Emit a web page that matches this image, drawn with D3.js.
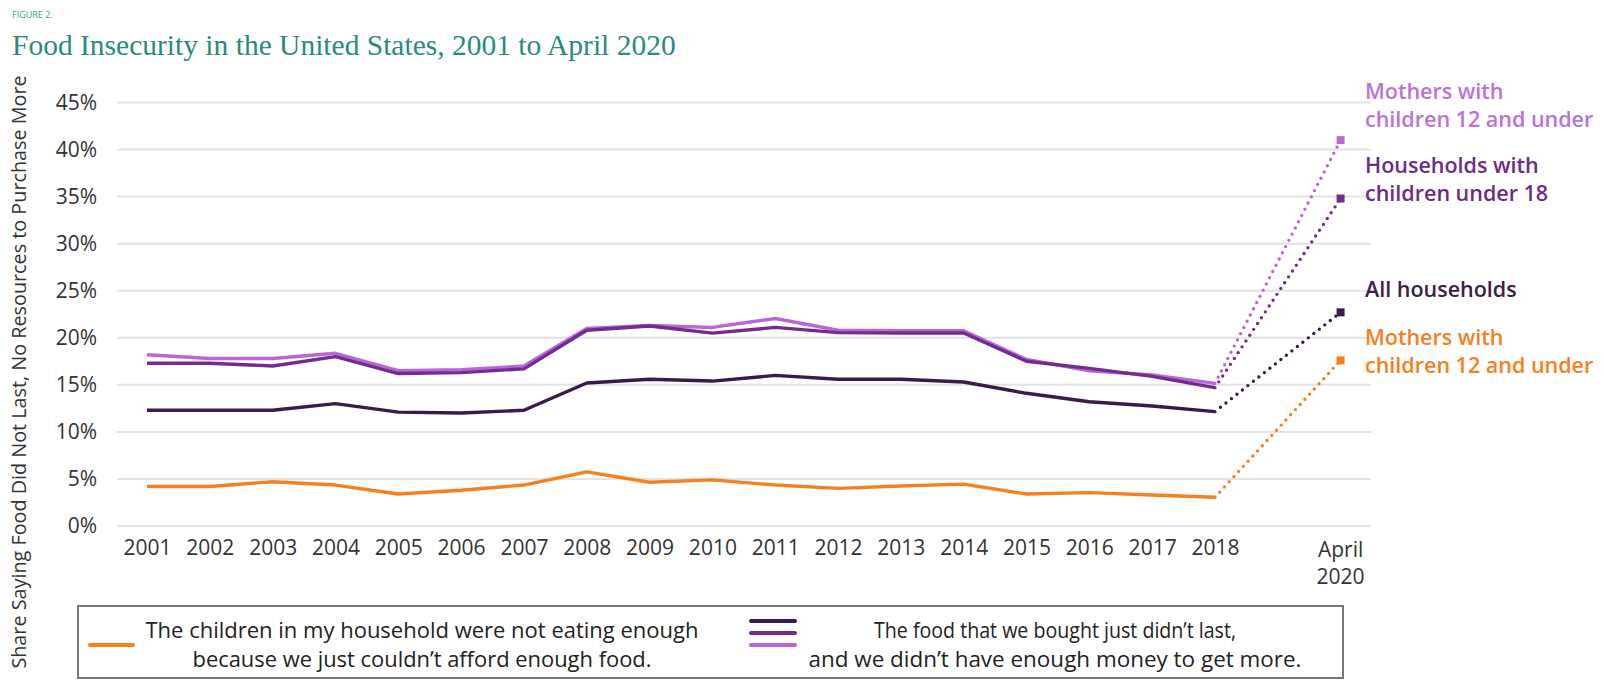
<!DOCTYPE html>
<html><head><meta charset="utf-8">
<script src="https://cdn.jsdelivr.net/npm/d3@7/dist/d3.min.js"></script>
<style>html,body{margin:0;padding:0;background:#fff;}svg{display:block;}</style>
</head><body>
<svg id="chart" width="1604" height="680"></svg>
<script>
const years = [2001,2002,2003,2004,2005,2006,2007,2008,2009,2010,2011,2012,2013,2014,2015,2016,2017,2018];
const childrenNotEating = [4.2,4.2,4.7,4.35,3.4,3.8,4.35,5.75,4.65,4.9,4.35,4.0,4.25,4.45,3.4,3.55,3.3,3.05];
const allHouseholds = [12.3,12.3,12.3,13.0,12.1,12.0,12.3,15.2,15.6,15.4,16.0,15.6,15.6,15.3,14.1,13.2,12.75,12.15];
const householdsWithChildren = [17.3,17.3,17.0,18.0,16.2,16.3,16.7,20.8,21.25,20.5,21.1,20.55,20.5,20.5,17.5,16.75,15.9,14.7];
const mothersWithChildren = [18.2,17.8,17.8,18.35,16.5,16.6,17.0,21.0,21.3,21.1,22.05,20.8,20.75,20.75,17.7,16.5,16.05,15.15];
const april2020 = {childrenNotEating:17.6, allHouseholds:22.7, householdsWithChildren:34.8, mothersWithChildren:41.0};
const aprilYear = 2020;
const yTicks = [0,5,10,15,20,25,30,35,40,45];
const xTickLabels = years.map(String);

const svg = d3.select("#chart");
const x = d3.scaleLinear().domain([2001, 2020]).range([147, 1340.6]);
const y = d3.scaleLinear().domain([0, 45]).range([526, 102.5]);
const sans = "'Open Sans', 'Noto Sans', sans-serif";

// Title
svg.append("text").attr("x",12).attr("y",18).attr("font-family",sans).attr("font-size",9)
  .attr("fill","#3a9d8f").text("FIGURE 2.");
svg.append("text").attr("x",12).attr("y",55).attr("font-family","'Liberation Serif', serif")
  .attr("font-size",29.5).attr("fill","#2b8a7c").text("Food Insecurity in the United States, 2001 to April 2020");

// gridlines
svg.append("g").selectAll("line").data(yTicks).join("line")
  .attr("x1",117).attr("x2",1371).attr("y1",d=>y(d)).attr("y2",d=>y(d))
  .attr("stroke","#e3e3e3").attr("stroke-width",2);

// y axis
const yAxis = d3.axisLeft(y).tickValues(yTicks).tickFormat(d=>d+"%").tickSize(0).tickPadding(0);
const gy = svg.append("g").attr("transform","translate(97,0)").call(yAxis);
gy.select(".domain").remove();
gy.selectAll("text").attr("font-family",sans).attr("font-size",21).attr("fill","#333");

// x axis
const xAxis = d3.axisBottom(x).tickValues(years).tickFormat((d,i)=>xTickLabels[i]).tickSize(0).tickPadding(0);
const gx = svg.append("g").attr("transform","translate(0,540)").call(xAxis);
gx.select(".domain").remove();
gx.selectAll("text").attr("font-family",sans).attr("font-size",21).attr("fill","#333").attr("dy","0.71em");
const aprilLbl = svg.append("text").attr("x",x(aprilYear)).attr("y",557).attr("text-anchor","middle")
  .attr("font-family",sans).attr("font-size",21).attr("fill","#333");
aprilLbl.append("tspan").attr("x",x(aprilYear)).text("April");
aprilLbl.append("tspan").attr("x",x(aprilYear)).attr("dy",27).text("2020");

// y title
svg.append("text").attr("transform","translate(21,372) rotate(-90)").attr("text-anchor","middle")
  .attr("dominant-baseline","middle").attr("font-family",sans).attr("font-size",19.8).attr("fill","#333")
  .text("Share Saying Food Did Not Last, No Resources to Purchase More");

const series = [
  {key:"childrenNotEating", values:childrenNotEating, color:"#f7801e"},
  {key:"allHouseholds", values:allHouseholds, color:"#3a1a48"},
  {key:"mothersWithChildren", values:mothersWithChildren, color:"#b866d9"},
  {key:"householdsWithChildren", values:householdsWithChildren, color:"#722d8c"}
];
const line = d3.line().x(d=>x(d[0])).y(d=>y(d[1]));
series.forEach(s=>{
  const pts = years.map((yr,i)=>[yr,s.values[i]]);
  svg.append("path").attr("d",line([pts[pts.length-1],[aprilYear,april2020[s.key]]]))
    .attr("fill","none").attr("stroke",s.color).attr("stroke-width",3.4)
    .attr("stroke-linecap","round").attr("stroke-dasharray","0,7");
  svg.append("rect").attr("x",x(aprilYear)-4).attr("y",y(april2020[s.key])-4).attr("width",8).attr("height",8)
    .attr("fill",s.color);
});
series.forEach(s=>{
  const pts = years.map((yr,i)=>[yr,s.values[i]]);
  svg.append("path").attr("d",line(pts)).attr("fill","none").attr("stroke",s.color)
    .attr("stroke-width",3.4).attr("stroke-linejoin","round");
});

// right labels
const labels = [
  {lines:["Mothers with","children 12 and under"], y:99, color:"#b873dc"},
  {lines:["Households with","children under 18"], y:173, color:"#6b2c84"},
  {lines:["All households"], y:297, color:"#3b2146"},
  {lines:["Mothers with","children 12 and under"], y:345, color:"#f7801e"}
];
labels.forEach(l=>{
  const t = svg.append("text").attr("x",1365).attr("y",l.y).attr("font-family",sans)
    .attr("font-size",21.5).attr("font-weight",600).attr("fill",l.color);
  l.lines.forEach((ln,i)=>t.append("tspan").attr("x",1365).attr("dy",i?28:0).text(ln));
});

// legend
svg.append("rect").attr("x",78).attr("y",606).attr("width",1265).attr("height",72)
  .attr("fill","none").attr("stroke","#777").attr("stroke-width",2);
svg.append("line").attr("x1",90).attr("x2",133).attr("y1",645).attr("y2",645)
  .attr("stroke","#f7801e").attr("stroke-width",4).attr("stroke-linecap","round");
[["#3a1a48",621],["#722d8c",633],["#b866d9",645]].forEach(([c,yy])=>{
  svg.append("line").attr("x1",751).attr("x2",795).attr("y1",yy).attr("y2",yy)
    .attr("stroke",c).attr("stroke-width",4).attr("stroke-linecap","round");
});
function legendText(cx, lines, widths){
  lines.forEach((ln,i)=>{
    svg.append("text").attr("x",cx).attr("y",638 + i*29).attr("text-anchor","middle")
      .attr("font-family",sans).attr("font-size",21).attr("fill","#222")
      .attr("textLength",widths[i]).attr("lengthAdjust","spacingAndGlyphs").text(ln);
  });
}
legendText(422, ["The children in my household were not eating enough","because we just couldn’t afford enough food."],[553,459]);
legendText(1055, ["The food that we bought just didn’t last,","and we didn’t have enough money to get more."],[362,493]);
</script>
</body></html>
